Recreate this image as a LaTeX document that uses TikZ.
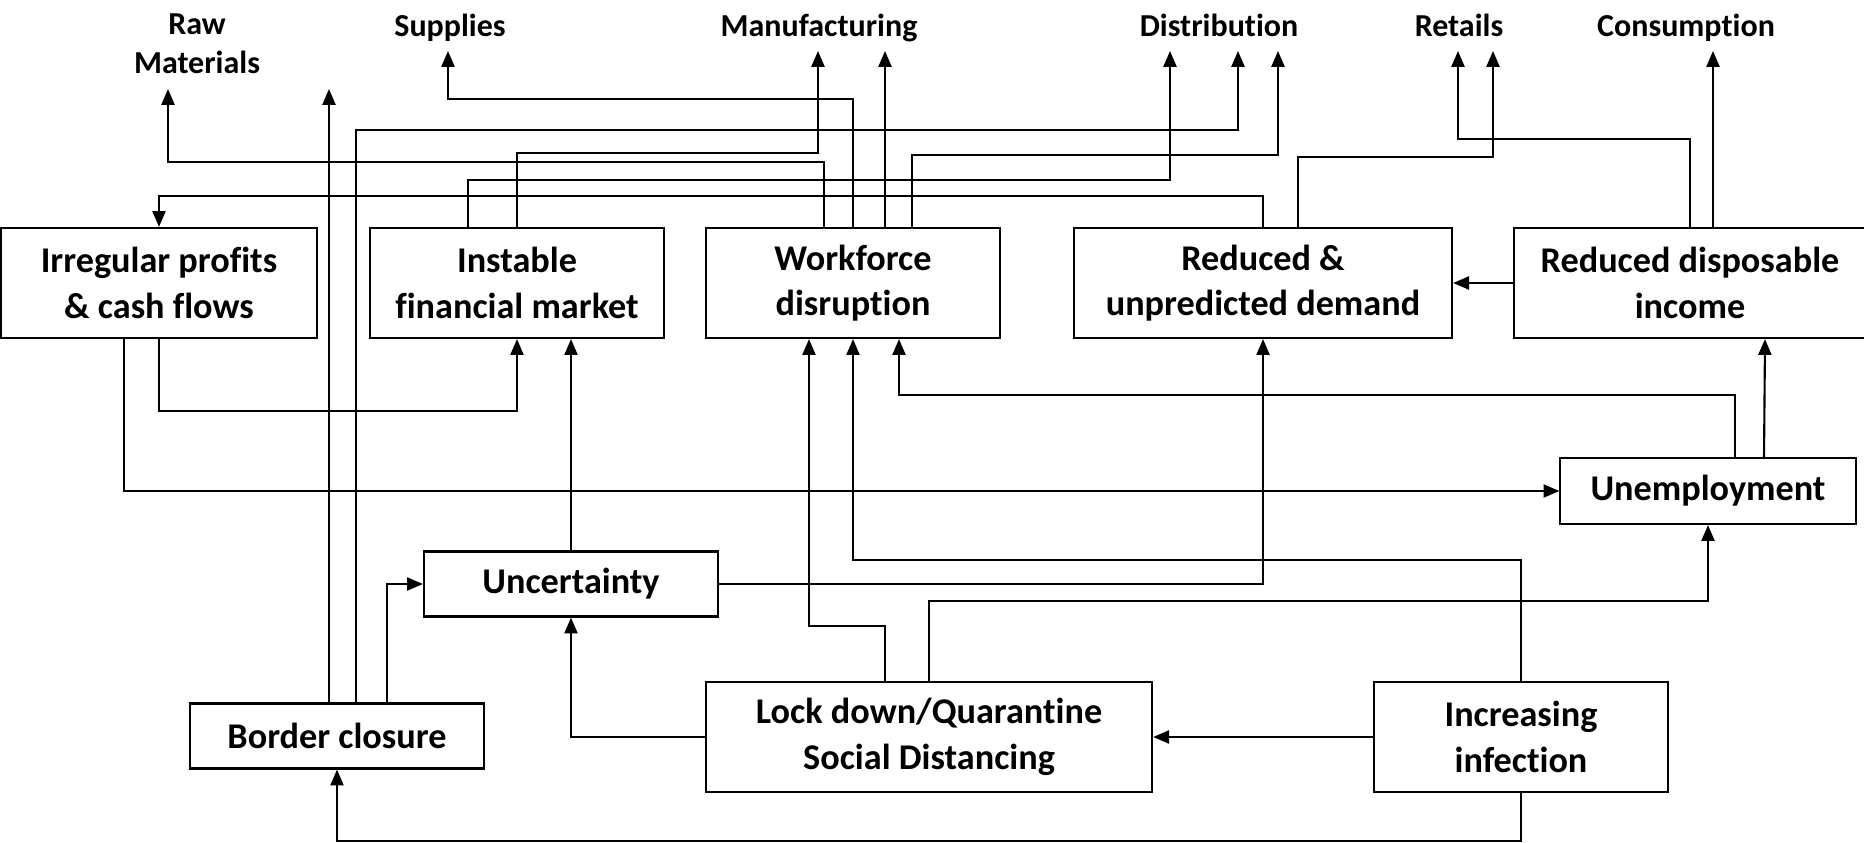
\documentclass[tikz,border=0pt]{standalone}
\usepackage{fontspec}
\setmainfont{Carlito}[Ligatures=NoCommon]
\usetikzlibrary{positioning}
\usetikzlibrary{calc}
\usetikzlibrary{arrows.meta}
\tikzset{
    frame/.style={draw, line width=0.6pt, align=center, inner sep=0pt,
        font=\fontsize{10.3}{13}\selectfont\bfseries, minimum height=1.1cm},
    stage/.style={align=center, inner sep=0pt, anchor=north,
        font=\fontsize{9.1}{11}\selectfont\bfseries},
    flow/.style={line width=0.6pt, -{Triangle[length=4.5pt, width=3.7pt]}}
}

\begin{document}
\begin{tikzpicture}[x=0.01cm, y=-0.01cm]
    \useasboundingbox (0,0) rectangle (1864,843);

    % supply chain stages
    \node [stage] (raw) at (197,13) {Raw\\Materials};
    \node [stage] (sup) at (450,13) {Supplies};
    \node [stage] (man) at (819,13) {Manufacturing};
    \node [stage] (dis) at (1219,13) {Distribution};
    \node [stage] (ret) at (1459,13) {Retails};
    \node [stage] (con) at (1686,13) {Consumption};

    \coordinate (rawtip) at (168,89);
    \coordinate (bordtip) at (329,89);
    \coordinate (suptip) at (448,51);
    \coordinate (man1) at (818,51);
    \coordinate (man2) at (885,51);
    \coordinate (dis1) at (1170,51);
    \coordinate (dis2) at (1238,51);
    \coordinate (dis3) at (1278,51);
    \coordinate (ret1) at (1458,51);
    \coordinate (ret2) at (1493,51);
    \coordinate (contip) at (1713,51);

    % effects
    \node [frame, minimum width=3.15cm] (irr) at (159,283) {Irregular profits\\\& cash flows};
    \node [frame, minimum width=2.94cm] (inst) at (517,283) {Instable\\financial market};
    \node [frame, minimum width=2.94cm] (work) at (853,283) {Workforce\\disruption};
    \node [frame, minimum width=3.78cm] (dem) at (1263,283) {Reduced \&\\unpredicted demand};
    \node [frame, minimum width=3.52cm] (disp) at (1690,283) {Reduced disposable\\income};
    \node [frame, minimum width=2.95cm, minimum height=0.66cm] (unemp) at (1708,491) {Unemployment};
    \node [frame, minimum width=2.94cm, minimum height=0.65cm] (unc) at (571,584) {Uncertainty};

    % causes
    \node [frame, minimum width=2.94cm, minimum height=0.65cm] (bord) at (337,736) {Border closure};
    \node [frame, minimum width=4.46cm] (lock) at (929,737) {Lock down/Quarantine\\Social Distancing};
    \node [frame, minimum width=2.94cm] (inf) at (1521,737) {Increasing\\infection};

    %%%%%%

    \draw[flow] (work.north) |- (448,99) -- (suptip);
    \draw[flow] ($(work.north)+(-29,0)$) |- (168,162) -- (rawtip);
    \draw[flow] ($(work.north)+(32,0)$) -- (man2);
    \draw[flow] ($(work.north)+(59,0)$) |- (1278,155) -- (dis3);
    \draw[flow] (inst.north) |- (818,153) -- (man1);
    \draw[flow] ($(inst.north)+(-49,0)$) |- (1170,180) -- (dis1);
    \draw[flow] ($(bord.north)+(-8,0)$) -- (bordtip);
    \draw[flow] ($(bord.north)+(19,0)$) |- (1238,130) -- (dis2);
    \draw[flow] ($(bord.north)+(50,0)$) |- (unc.west);
    \draw[flow] (dem.north) -- ++(0,-31) -| (irr.north);
    \draw[flow] ($(dem.north)+(35,0)$) |- (1493,157) -- (ret2);
    \draw[flow] (disp.north) |- (1458,139) -- (ret1);
    \draw[flow] ($(disp.north)+(23,0)$) -- (contip);
    \draw[flow] (disp) -- (dem);

    %%%%%%

    \draw[flow] ($(irr.south)+(-35,0)$) |- (unemp.west);
    \draw[flow] (irr.south) -- ++(0,72) -| (inst.south);
    \draw[flow] (unc.north) -- (unc.north |- inst.south);
    \draw[flow] ($(unemp.north)+(27,0)$) -- ++(0,-62) -| ($(work.south)+(46,0)$);
    \draw[flow] ($(unemp.north)+(56,0)$) -- ($(disp.south)+(75,0)$);
    \draw[flow] ($(lock.north)+(-44,0)$) -- ++(0,-55) -| ($(work.south)+(-44,0)$);
    \draw[flow] (inf.north) -- ++(0,-121) -| (work.south);
    \draw[flow] (lock.north) -- ++(0,-80) -| (unemp.south);
    \draw[flow] (unc.east) -| (dem.south);
    \draw[flow] (lock.west) -| (unc.south);
    \draw[flow] (inf) -- (lock);
    \draw[flow] (inf.south) -- ++(0,48) -| (bord.south);

\end{tikzpicture}
\end{document}
